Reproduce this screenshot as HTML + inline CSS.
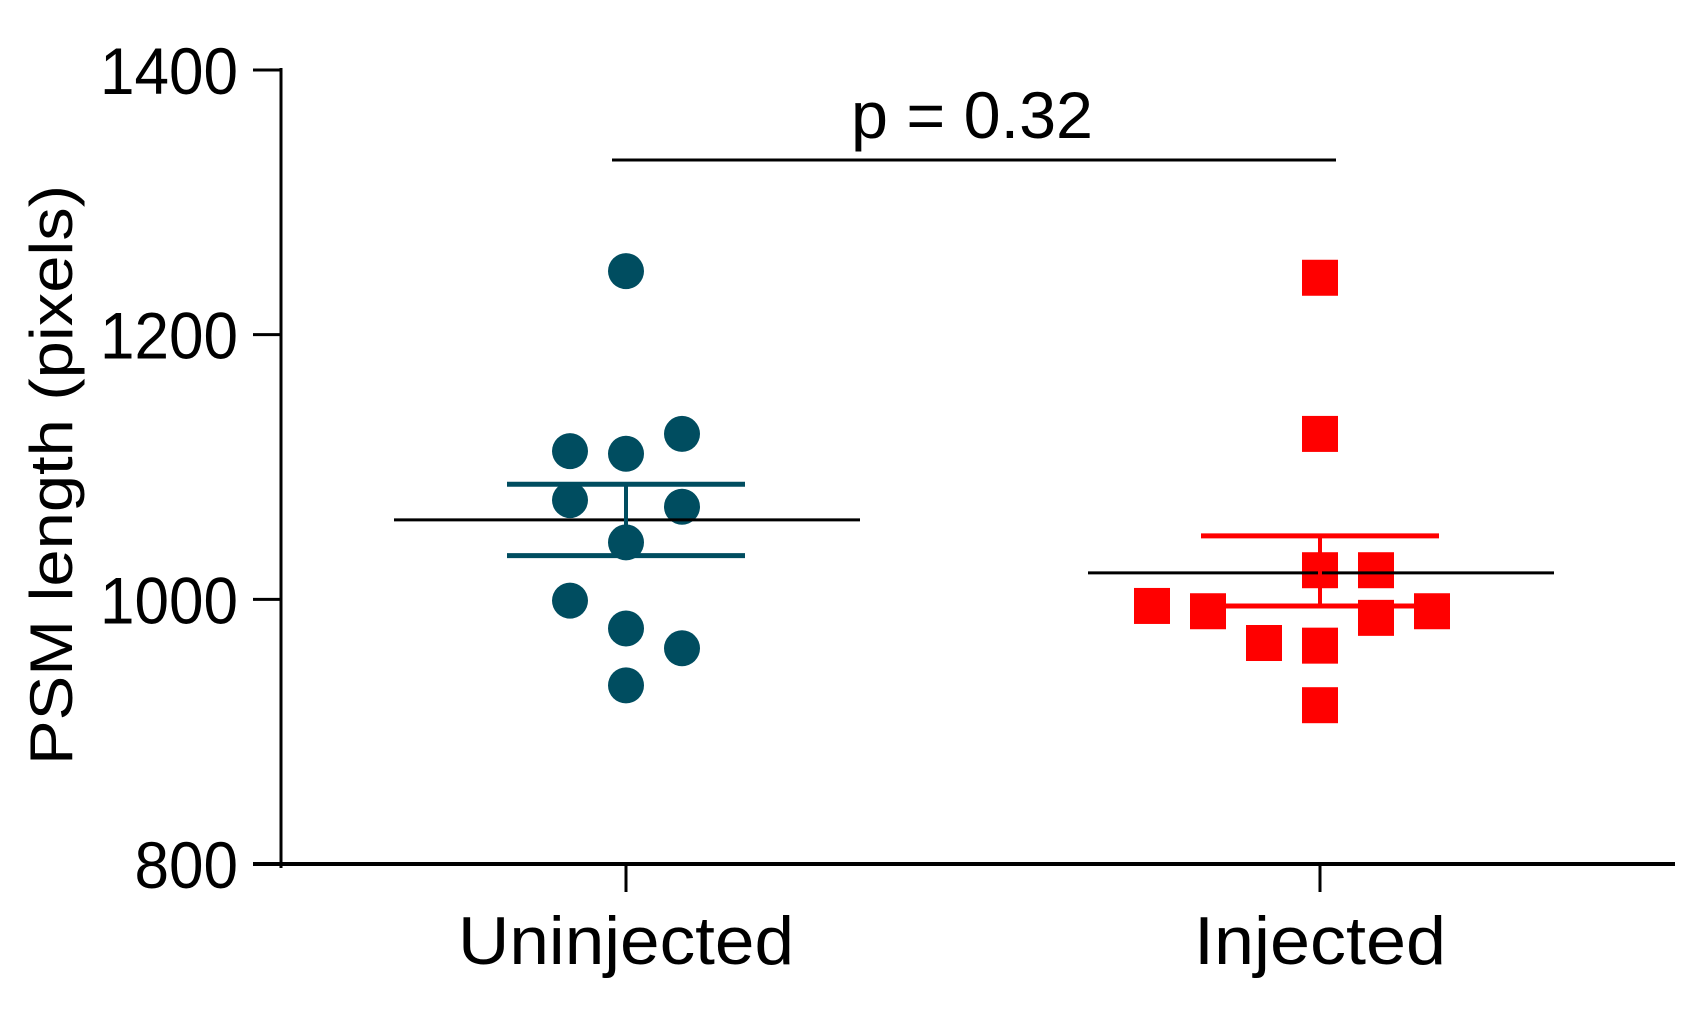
<!DOCTYPE html>
<html><head><meta charset="utf-8"><style>
html,body{margin:0;padding:0;background:#fff;}
svg{display:block;font-family:"Liberation Sans",sans-serif;}
</style></head><body>
<svg id="chart" width="1704" height="1034" viewBox="0 0 1704 1034">
<g id="axes"></g>
<g id="marks"></g>
</svg>
<script>
const categories = ["Uninjected", "Injected"];
const yTicks = [800, 1000, 1200, 1400];
const uninjectedValues = [1248, 1112, 1110, 1125, 1075, 1070, 1043, 999, 978, 963, 935];
const uninjectedSlots = [0, -1, 0, 1, -1, 1, 0, -1, 0, 1, 0];
const injectedValues = [1243, 1125, 1022, 1022, 995, 991, 967, 965, 986, 991, 920];
const injectedSlots = [0, 0, 0, 1, -3, -2, -1, 0, 1, 2, 0];
const means = [1060, 1020];
const semLow = [1033, 995];
const semHigh = [1087, 1048];
const pLabel = "p = 0.32";

const NS = "http://www.w3.org/2000/svg";
const y = v => 864 - (v - 800) * (864 - 70) / 600;
const x = i => [626, 1320][i];
const slotW = 56;
const catWidths = [336, 252];
function mk(tag, attrs, parent, text){
  const e = document.createElementNS(NS, tag);
  for (const k in attrs) e.setAttribute(k, attrs[k]);
  if (text !== undefined) e.textContent = text;
  parent.appendChild(e); return e;
}
const axes = document.getElementById('axes');
const marks = document.getElementById('marks');

let e = mk('line', {x1:281, y1:68, x2:281, y2:868, stroke:'#000', 'stroke-width':3}, axes);


e = mk('line', {x1:253, y1:864, x2:1675, y2:864, stroke:'#000', 'stroke-width':4}, axes);


yTicks.forEach(t => {
  let tk = mk('line', {x1:253, y1:y(t), x2:281, y2:y(t), stroke:'#000', 'stroke-width':3}, axes);
  
  
  const s = String(t);
  const w = s.length * 34.5;
  let lb = mk('text', {x:238 - w, y:y(t)+24, 'font-size':66, textLength:w, lengthAdjust:'spacingAndGlyphs'}, axes, s);
  
  
});
categories.forEach((c, i) => {
  let tk = mk('line', {x1:x(i), y1:864, x2:x(i), y2:892, stroke:'#000', 'stroke-width':3}, axes);
  
  
  let lb = mk('text', {x:x(i) - catWidths[i]/2, y:964, 'font-size':68, textLength:catWidths[i], lengthAdjust:'spacingAndGlyphs'}, axes, c);
  
  
});
let yt = mk('text', {x:-290, y:0, 'font-size':60, textLength:580, lengthAdjust:'spacingAndGlyphs', transform:'translate(72,475) rotate(-90)'}, axes, 'PSM length (pixels)');



let pl = mk('line', {x1:612, y1:160, x2:1336, y2:160, stroke:'#000', 'stroke-width':3}, marks);


let pt = mk('text', {x:851, y:138, 'font-size':66, textLength:242, lengthAdjust:'spacingAndGlyphs'}, marks, pLabel);



const colors = ['#004d60', '#ff0000'];
uninjectedValues.forEach((v, k) => {
  let c = mk('circle', {cx:x(0) + uninjectedSlots[k]*slotW, cy:y(v), r:18, fill:colors[0]}, marks);
  
  
});
injectedValues.forEach((v, k) => {
  let s = mk('rect', {x:x(1) + injectedSlots[k]*slotW - 18, y:y(v) - 18, width:36, height:36, fill:colors[1]}, marks);
  
  
});
categories.forEach((c, i) => {
  const cx = x(i);
  let m = mk('line', {x1:cx-232, y1:y(means[i]), x2:cx+234, y2:y(means[i]), stroke:'#000', 'stroke-width':3}, marks);
  
  
  let v = mk('line', {x1:cx, y1:y(semLow[i]), x2:cx, y2:y(semHigh[i]), stroke:colors[i], 'stroke-width':4}, marks);
  
  
  [semLow[i], semHigh[i]].forEach(s => {
    let cap = mk('line', {x1:cx-119, y1:y(s), x2:cx+119, y2:y(s), stroke:colors[i], 'stroke-width':5}, marks);
    
    
  });
});
</script>
</body></html>
